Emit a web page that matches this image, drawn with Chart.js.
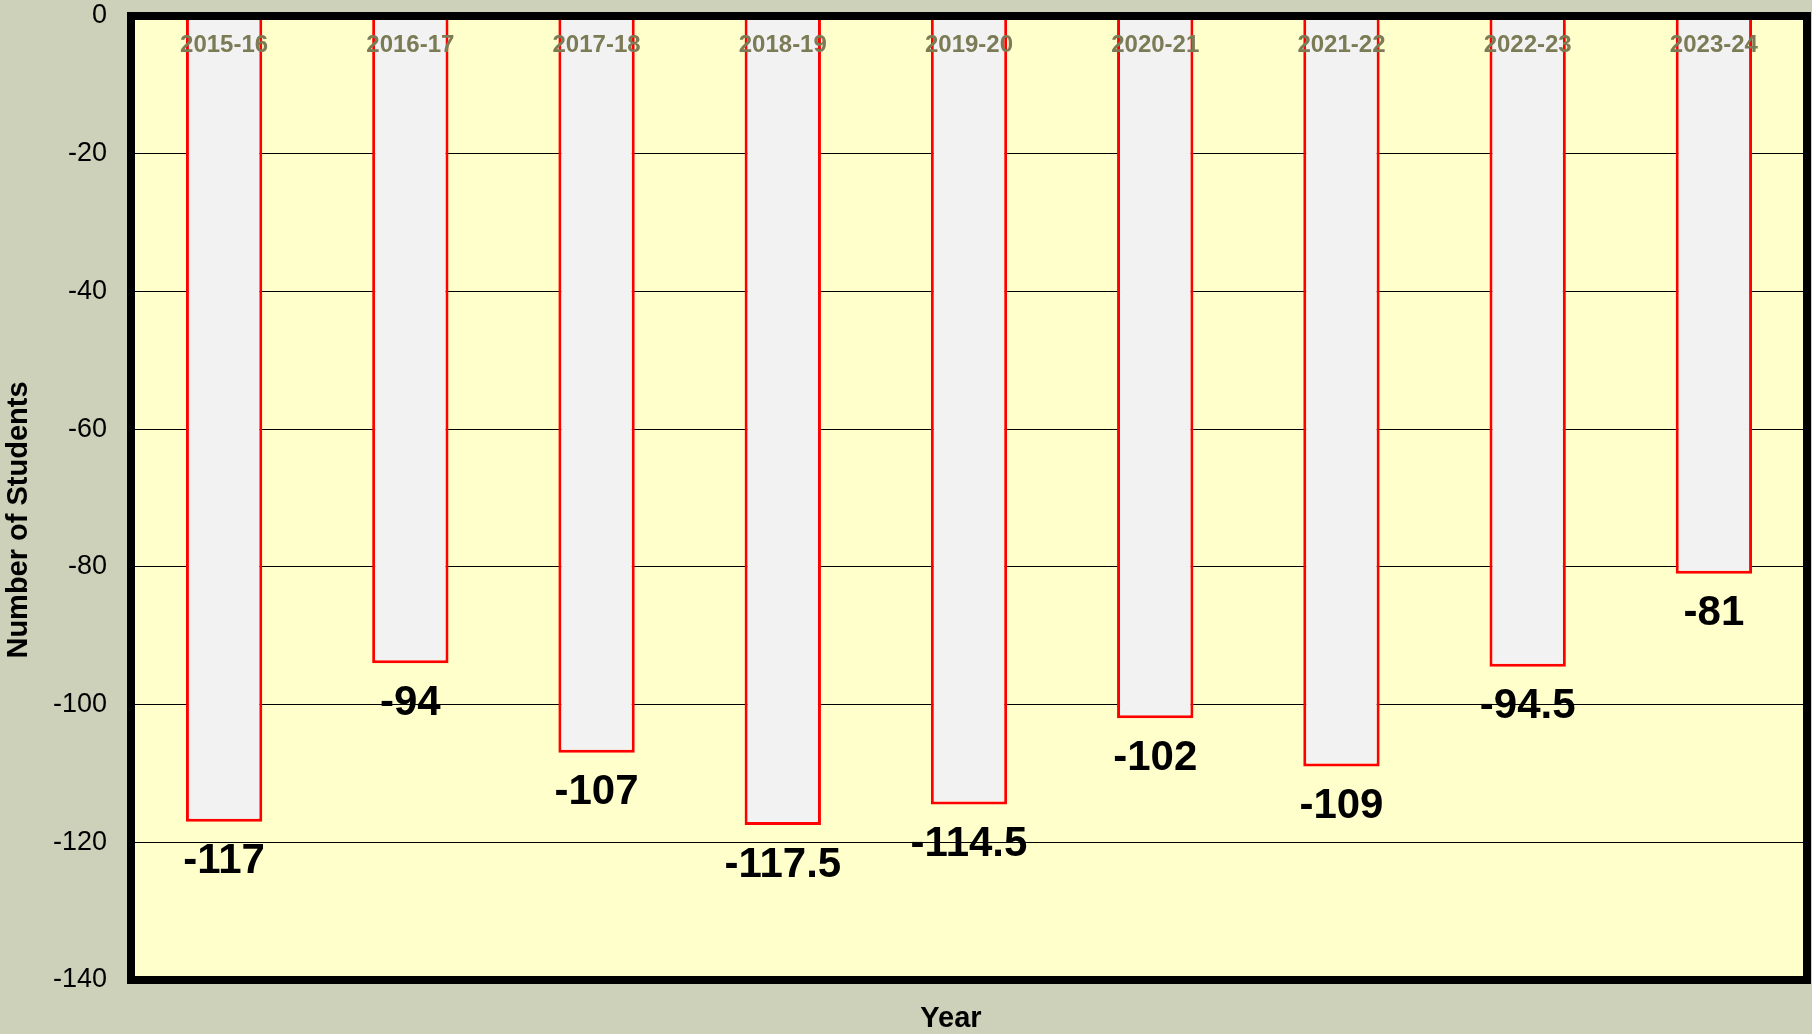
<!DOCTYPE html>
<html>
<head>
<meta charset="utf-8">
<script src="https://cdn.jsdelivr.net/npm/chart.js@4.4.0/dist/chart.umd.min.js"></script>
<style>
    html, body { margin: 0; padding: 0; background: #cdd1b9; }
    #wrap { width: 1812px; height: 1034px; }
</style>
</head>
<body>
<div id="wrap"><canvas id="chart"></canvas></div>
<script>
// Data
const years = ['2015-16', '2016-17', '2017-18', '2018-19', '2019-20', '2020-21', '2021-22', '2022-23', '2023-24'];
const studentChange = [-117, -94, -107, -117.5, -114.5, -102, -109, -94.5, -81];
const yMin = -140, yMax = 0, yStep = 20;

const FONT = '"Liberation Sans", Arial, sans-serif';

// plot background + thick frame
const frame = {
    id: 'frame',
    beforeDraw(chart) {
        const { ctx, chartArea: a } = chart;
        ctx.save();
        ctx.fillStyle = '#ffffcc';
        ctx.fillRect(a.left, a.top, a.right - a.left, a.bottom - a.top);
        ctx.restore();
    },
    afterDraw(chart) {
        const { ctx, chartArea: a } = chart;
        ctx.save();
        ctx.strokeStyle = '#000';
        ctx.lineWidth = 8;
        ctx.strokeRect(a.left, a.top, a.right - a.left, a.bottom - a.top);
        ctx.restore();
    }
};

// year labels inside the top of the plot, values under each bar
const labelsPlugin = {
    id: 'labels',
    afterDatasetsDraw(chart) {
        const { ctx, chartArea: a } = chart;
        const xs = chart.scales.x;
        const meta = chart.getDatasetMeta(0);
        ctx.save();
        ctx.textAlign = 'center';
        ctx.textBaseline = 'middle';
        ctx.fillStyle = '#7b7b55';
        ctx.font = 'bold 24px ' + FONT;
        years.forEach((y, i) => {
            ctx.fillText(y, xs.getPixelForValue(i), a.top + 29);
        });
        ctx.fillStyle = '#000';
        ctx.font = 'bold 42px ' + FONT;
        meta.data.forEach((bar, i) => {
            ctx.fillText(String(studentChange[i]), bar.x, bar.y + 40);
        });
        ctx.restore();
    },
    afterDraw(chart) {
        const { ctx, chartArea: a } = chart;
        ctx.save();
        ctx.fillStyle = '#000';
        ctx.textAlign = 'center';
        ctx.textBaseline = 'middle';
        ctx.font = 'bold 29px ' + FONT;
        ctx.fillText('Year', (a.left + a.right) / 2 - 18, 1019);
        ctx.translate(19, (a.top + a.bottom) / 2 + 22);
        ctx.rotate(-Math.PI / 2);
        ctx.fillText('Number of Students', 0, 0);
        ctx.restore();
    }
};

new Chart(document.getElementById('chart'), {
    type: 'bar',
    data: {
        labels: years,
        datasets: [{
            data: studentChange,
            backgroundColor: '#f2f2f2',
            borderColor: '#ff0000',
            borderWidth: 3,
            borderSkipped: false,
            categoryPercentage: 1,
            barPercentage: 0.41
        }]
    },
    options: {
        responsive: true,
        maintainAspectRatio: false,
        animation: false,
        layout: { padding: { top: 16, right: 5, bottom: 0, left: 0 } },
        plugins: {
            legend: { display: false },
            tooltip: { enabled: false }
        },
        scales: {
            x: {
                position: 'bottom',
                grid: { display: false },
                border: { display: false },
                ticks: { display: false },
                afterFit(scale) { scale.height = 54; }
            },
            y: {
                min: yMin,
                max: yMax,
                grid: { color: '#000', lineWidth: 1, tickLength: 22, tickColor: 'transparent', drawOnChartArea: true },
                border: { display: false },
                ticks: {
                    stepSize: yStep,
                    color: '#000',
                    font: { family: FONT, size: 27, lineHeight: 1 },
                    padding: 2
                },
                afterFit(scale) { scale.width = 131; }
            }
        }
    },
    plugins: [frame, labelsPlugin]
});
</script>
</body>
</html>
